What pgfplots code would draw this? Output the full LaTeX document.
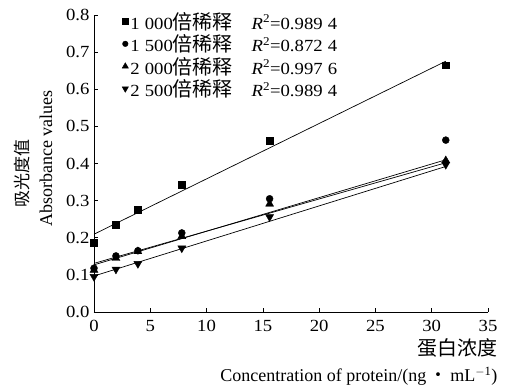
\documentclass[border=0pt]{standalone}
\usepackage{pgfplots}
\pgfplotsset{compat=1.18}
\usepackage{fontspec}
\setmainfont{Liberation Serif}
\newfontfamily\numfont[FakeStretch=1.1]{Liberation Serif}
\newfontfamily\cjk{Noto Sans CJK SC}
\newcommand{\fs}{\fontsize{18bp}{22bp}\selectfont}
\newcommand{\nfs}{\fontsize{17bp}{22bp}\numfont}
\newcommand{\leg}[3]{#1\hspace{0.3em}#2{\fontsize{20bp}{22bp}\cjk 倍稀释}\hspace{1.1em}\textit{R}\textsuperscript{2}=#3}
\begin{document}
\begin{tikzpicture}[font=\fs]
\path[use as bounding box] (-94bp,-79bp) rectangle (411bp,312bp);
\begin{axis}[
  at={(0,0)}, anchor=origin,
  scale only axis,
  width=394bp, height=297bp,
  xmin=0, xmax=35, ymin=0, ymax=0.8,
  axis lines*=left,
  axis line style={line width=0.7bp},
  tick style={line width=0.7bp, black},
  tick align=inside,
  major tick length=4bp,
  xtick={0,5,...,35},
  ytick={0,0.1,...,0.8},
  /pgf/number format/assume math mode=true,
  yticklabel style={/pgf/number format/fixed, /pgf/number format/precision=1, /pgf/number format/fixed zerofill, font=\nfs, xshift=-1bp},
  xticklabel style={font=\nfs, yshift=-5bp},
  clip=false,
  xlabel={{\fontsize{20bp}{22bp}\cjk 蛋白浓度}\\[4bp]Concentration of protein/(ng\,{\cjk ·}\,mL\textsuperscript{$-$1})},
  xlabel style={at={(axis description cs:1,0)}, anchor=north east, xshift=13bp, yshift=-23bp, align=right, font=\fs},
  ylabel={{\fontsize{17bp}{20bp}\cjk 吸光度值}\rule{30bp}{0pt}\\[2bp]Absorbance values},
  ylabel style={at={(axis description cs:0,0.5)}, yshift=61bp, xshift=5bp, anchor=center, align=center, font=\fs},
  legend style={at={(axis description cs:0,1)}, xshift=25bp, yshift=7bp, anchor=north west, draw=none, fill=none, font=\nfs, row sep=0bp},
  legend cell align=left,
]
% legend images
\addlegendimage{only marks, mark=square*, mark size=2.8bp, black}
\addlegendentry{\leg{1}{000}{0.989\hspace{0.3em}4}}
\addlegendimage{only marks, mark=*, mark size=2.8bp, black}
\addlegendentry{\leg{1}{500}{0.872\hspace{0.3em}4}}
\addlegendimage{only marks, mark=triangle*, mark size=3.6bp, black}
\addlegendentry{\leg{2}{000}{0.997\hspace{0.3em}6}}
\addlegendimage{only marks, mark=triangle*, mark options={rotate=180}, mark size=3.6bp, black}
\addlegendentry{\leg{2}{500}{0.989\hspace{0.3em}4}}

% fitted lines
\addplot[forget plot, black, line width=0.7bp] coordinates {(0,0.2095) (31.25,0.6755)};
\addplot[forget plot, black, line width=0.7bp] coordinates {(0,0.131) (31.25,0.402)};
\addplot[forget plot, black, line width=0.7bp] coordinates {(0,0.127) (31.25,0.410)};
\addplot[forget plot, black, line width=0.7bp] coordinates {(0,0.097) (31.25,0.392)};

% data points
\addplot[forget plot, only marks, mark=square*, mark size=3.4bp, black] coordinates {
 (0,0.186) (1.95,0.235) (3.9,0.275) (7.8,0.342) (15.6,0.461) (31.25,0.665)};
\addplot[forget plot, only marks, mark=*, mark size=3.5bp, black] coordinates {
 (0,0.118) (1.95,0.151) (3.9,0.165) (7.8,0.213) (15.6,0.305) (31.25,0.463)};
\addplot[forget plot, only marks, mark=triangle*, mark size=4.6bp, black] coordinates {
 (0,0.113) (1.95,0.145) (3.9,0.163) (7.8,0.204) (15.6,0.291) (31.25,0.408)};
\addplot[forget plot, only marks, mark=triangle*, mark options={rotate=180}, mark size=4.6bp, black] coordinates {
 (0,0.095) (1.95,0.115) (3.9,0.130) (7.8,0.172) (15.6,0.256) (31.25,0.397)};
\end{axis}
\end{tikzpicture}
\end{document}
